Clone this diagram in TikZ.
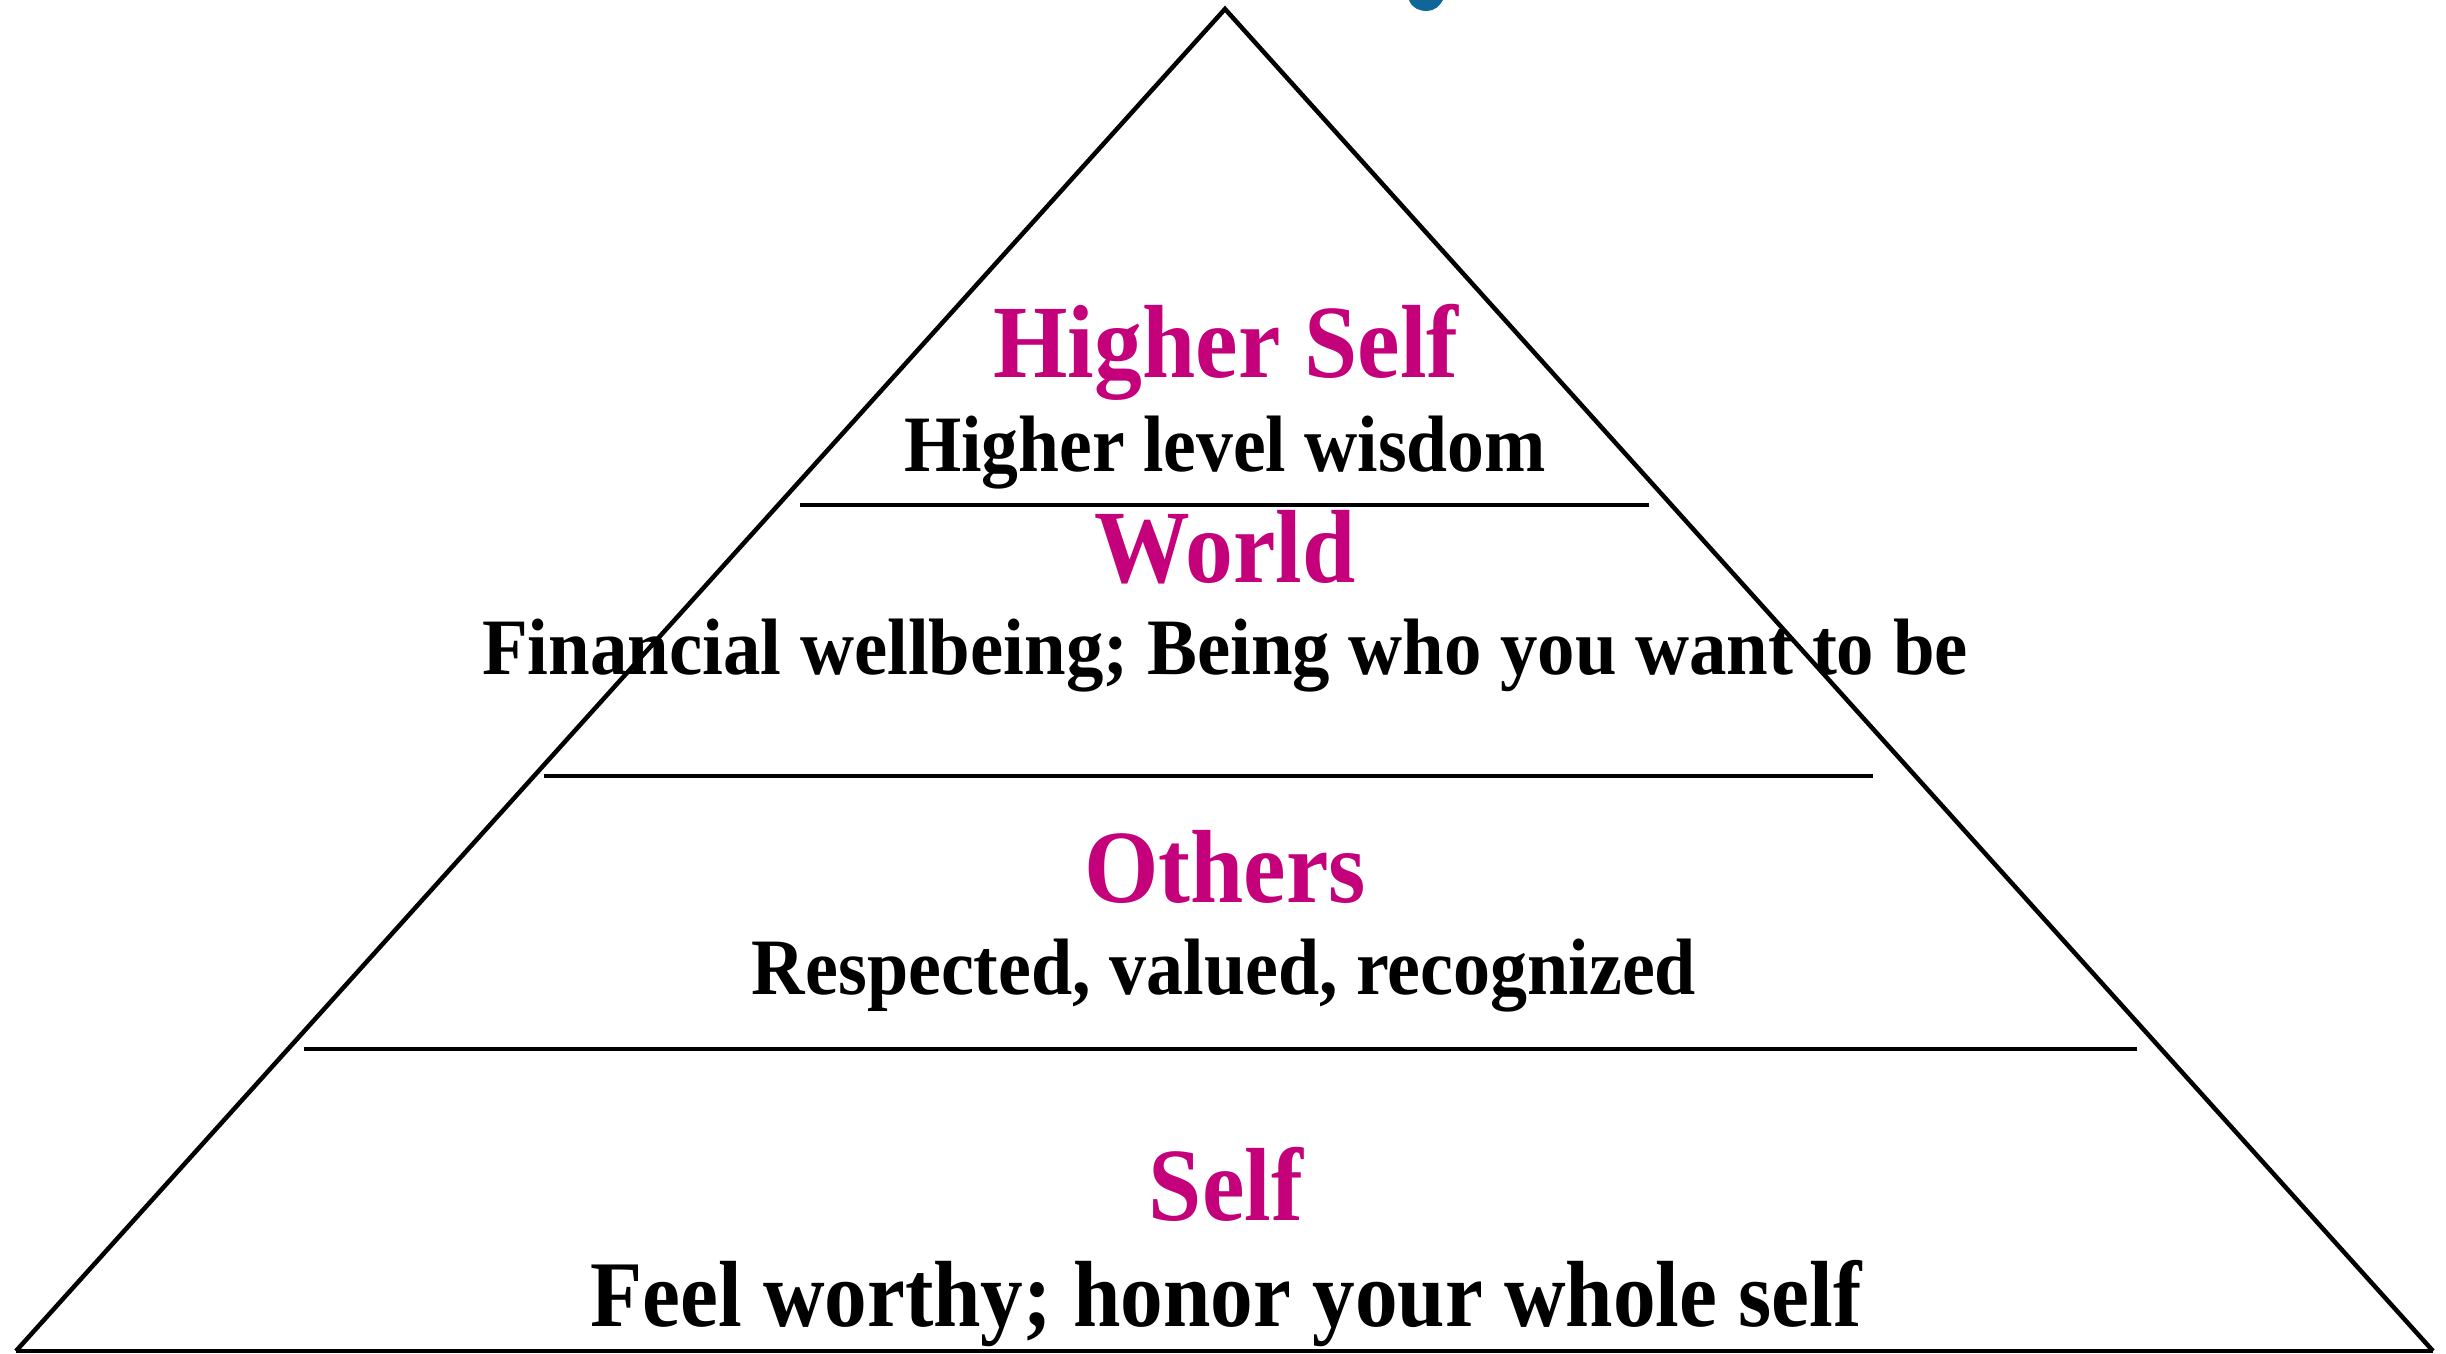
\documentclass[tikz,border=0pt]{standalone}
\usepackage{fontspec}
\usepackage{graphicx}
\setmainfont{Liberation Serif}
\definecolor{mag}{RGB}{196,0,122}
\definecolor{titleblue}{RGB}{16,102,150}
\newcommand{\sq}[2][0.92]{\scalebox{#1}[1]{#2}}
\begin{document}
\begin{tikzpicture}[x=1pt,y=-1pt,
  edge/.style={line width=4.5pt,black},
  divider/.style={line width=4.5pt,black},
  titletext/.style={anchor=base,inner sep=0pt,text=mag,font=\bfseries\fontsize{104}{110}\selectfont},
  subtext/.style={anchor=base,inner sep=0pt,text=black,font=\bfseries\fontsize{80}{86}\selectfont},
  bigsubtext/.style={anchor=base,inner sep=0pt,text=black,font=\bfseries\fontsize{94}{100}\selectfont}]
\useasboundingbox (0,0) rectangle (2446,1353);
% title fragment at top
\fill[titleblue] (1409,0) .. controls (1412,8) and (1419,11) .. (1427,11)
  .. controls (1434,11) and (1440,6) .. (1443,0) -- cycle;
% pyramid
\coordinate (apex) at (1225,9);
\coordinate (bl) at (16,1351);
\coordinate (br) at (2433,1351);
\draw[edge,line join=miter] (bl) -- (apex) -- (br);
\draw[line width=3.5pt] (bl) -- (br);
% dividers
\coordinate (d1l) at (800,505); \coordinate (d1r) at (1649,505);
\coordinate (d2l) at (544,776); \coordinate (d2r) at (1873,776);
\coordinate (d3l) at (304,1049); \coordinate (d3r) at (2137,1049);
\draw[divider] (d1l) -- (d1r);
\draw[divider] (d2l) -- (d2r);
\draw[divider] (d3l) -- (d3r);
% texts
\node[titletext] (t1) at (1226,377) {\sq{Higher Self}};
\node[subtext] (s1) at (1225,471) {\sq{Higher level wisdom}};
\node[titletext] (t2) at (1225,582) {\sq{World}};
\node[subtext] (s2) at (1225,674) {\sq[0.935]{Financial wellbeing; Being who you want to be}};
\node[titletext] (t3) at (1225,902) {\sq{Others}};
\node[subtext] (s3) at (1224,994) {\sq[0.925]{Respected, valued, recognized}};
\node[titletext] (t4) at (1226,1220) {\sq{Self}};
\node[bigsubtext] (s4) at (1226,1326) {\sq[0.907]{Feel worthy; honor your whole self}};
\end{tikzpicture}
\end{document}
